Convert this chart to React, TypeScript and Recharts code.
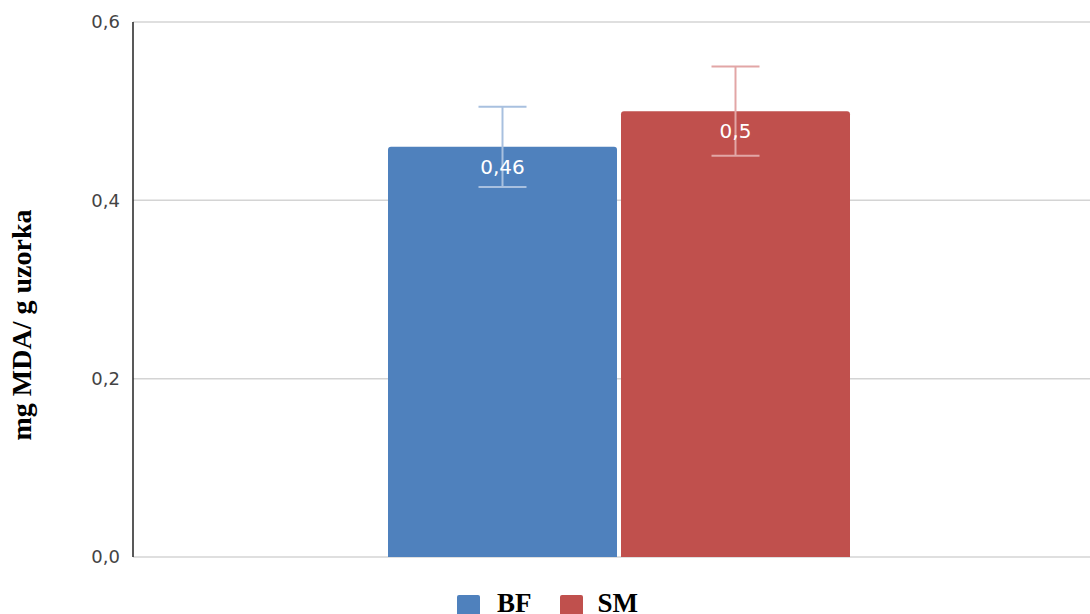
import React from 'react';
import { BarChart, Bar, XAxis, YAxis, CartesianGrid, ErrorBar, LabelList } from 'recharts';

const categories = [''];
const bfValues = [0.46];
const smValues = [0.5];
const bfErrors = [0.045];
const smErrors = [0.05];
const yTicks = [0, 0.2, 0.4, 0.6];
const seriesNames = ['BF', 'SM'];

const data = categories.map((c, i) => ({
  name: c,
  BF: bfValues[i],
  SM: smValues[i],
  bfErr: bfErrors[i],
  smErr: smErrors[i],
}));

const comma = (v: any) => String(v).replace('.', ',');
const tickFmt = (v: number) => v.toFixed(1).replace('.', ',');

const BF_COLOR = '#4f81bd';
const SM_COLOR = '#c0504d';

const LegendBox = () => (
  <div style={{ position: 'absolute', left: 457, top: 592, display: 'flex', alignItems: 'flex-start', fontFamily: '"Liberation Serif", "Times New Roman", serif', fontWeight: 'bold', fontSize: 27, lineHeight: '22px', color: '#000' }}>
    <div style={{ width: 23, height: 22, marginTop: 3, background: BF_COLOR, borderRadius: 2 }} />
    <span style={{ marginLeft: 17 }}>{seriesNames[0]}</span>
    <div style={{ width: 23, height: 22, marginTop: 3, background: SM_COLOR, borderRadius: 2, marginLeft: 28 }} />
    <span style={{ marginLeft: 15 }}>{seriesNames[1]}</span>
  </div>
);

const YLabel = () => (
  <text
    x={31}
    y={325}
    transform="rotate(-90, 31, 325)"
    textAnchor="middle"
    fontFamily='"Liberation Serif", "Times New Roman", serif'
    fontWeight="bold"
    fontSize={28}
    fill="#000"
  >
    mg MDA/ g uzorka
  </text>
);

export default function App() {
  return (
    <div style={{ position: 'relative', width: 1090, height: 614, overflow: 'hidden' }}>
      <style>{`html,body{margin:0;padding:0;overflow:hidden;}`}</style>
      <BarChart
        width={1090}
        height={614}
        data={data}
        margin={{ top: 22, right: 0, bottom: 57, left: 0 }}
        barGap={4}
      >
        <CartesianGrid vertical={false} stroke="#d4d4d4" strokeWidth={1.5} />
        <XAxis
          dataKey="name"
          tick={false}
          tickLine={false}
          axisLine={{ stroke: '#333', strokeWidth: 1.5 }}
          padding={{ left: 14, right: 0 }}
          height={0}
        />
        <YAxis
          width={133}
          domain={[0, 0.6]}
          ticks={yTicks}
          tickFormatter={tickFmt}
          tickLine={false}
          tickSize={0}
          tickMargin={13}
          axisLine={{ stroke: '#222', strokeWidth: 1.5 }}
          tick={{ fill: '#444', fontSize: 18, fontFamily: '"DejaVu Sans", sans-serif' }}
          label={<YLabel />}
        />
        <Bar dataKey="BF" fill={BF_COLOR} barSize={229} radius={[3, 3, 0, 0]} isAnimationActive={false}>
          <ErrorBar dataKey="bfErr" width={24} stroke="#a8c0df" strokeWidth={2} />
          <LabelList dataKey="BF" position="insideTop" offset={13} formatter={comma} fill="#fff" fontSize={20} fontFamily='"DejaVu Sans", sans-serif' />
        </Bar>
        <Bar dataKey="SM" fill={SM_COLOR} barSize={229} radius={[3, 3, 0, 0]} isAnimationActive={false}>
          <ErrorBar dataKey="smErr" width={24} stroke="#e2a6a6" strokeWidth={2} />
          <LabelList dataKey="SM" position="insideTop" offset={13} formatter={comma} fill="#fff" fontSize={20} fontFamily='"DejaVu Sans", sans-serif' />
        </Bar>
      </BarChart>
      <LegendBox />
    </div>
  );
}
